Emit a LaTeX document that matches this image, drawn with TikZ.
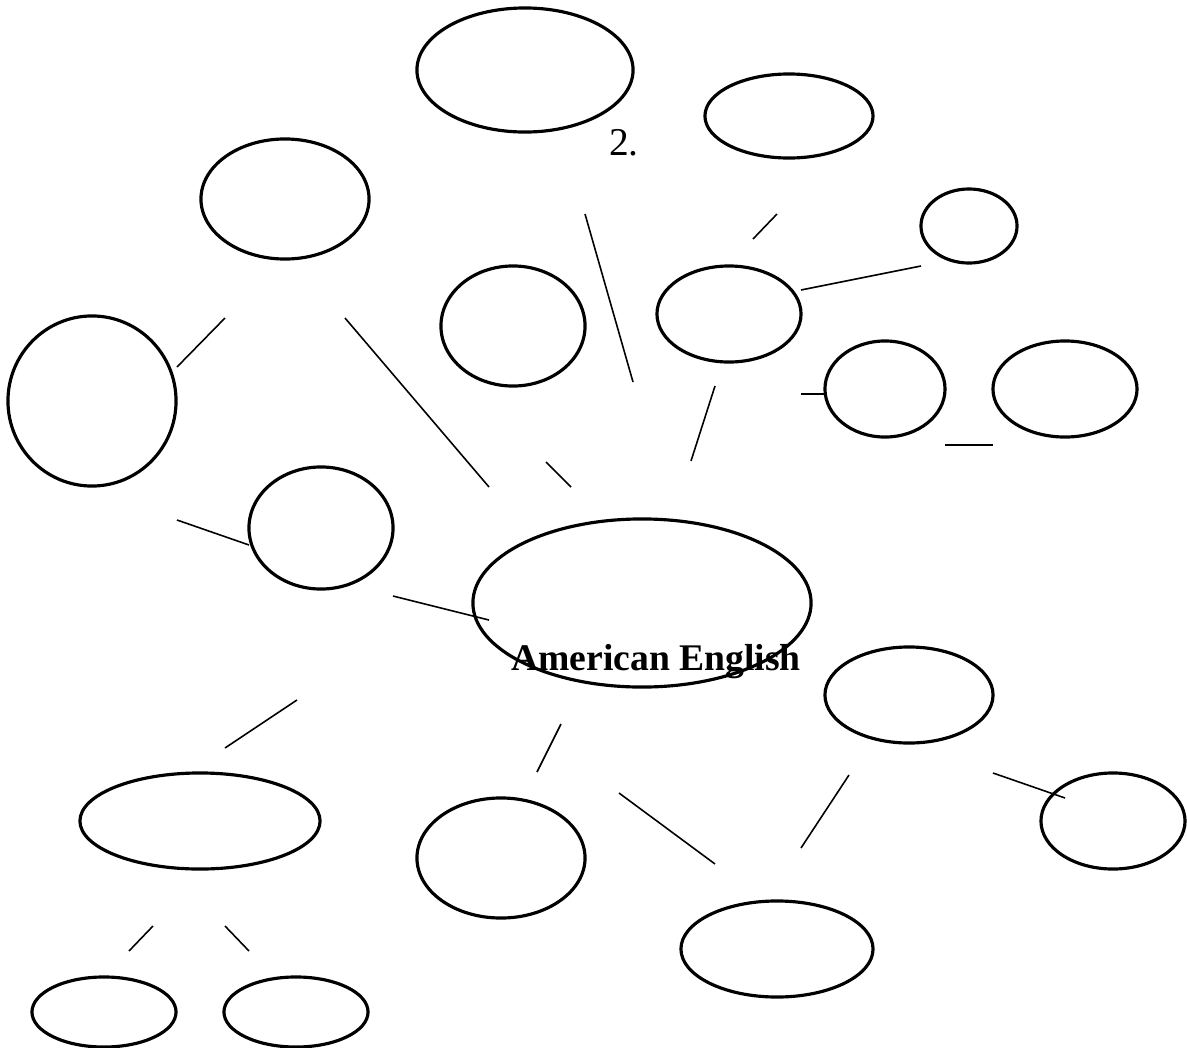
\documentclass[tikz,border=0pt]{standalone}
\usepackage{fontspec}
\setmainfont{Liberation Serif}
\usepackage{tikz}
\usetikzlibrary{shapes.geometric}

\begin{document}
\begin{tikzpicture}[
  x=0.01cm,y=-0.01cm,
  bubble/.style={ellipse,draw,line width=0.9pt,inner sep=0pt},
  link/.style={line width=0.45pt},
  label/.style={inner sep=0pt,anchor=base,font=\fontsize{11.2}{13}\selectfont}
]
  \useasboundingbox (0,0) rectangle (1187,1048);
  % bubbles
  \node[bubble,minimum width=2.16cm,minimum height=1.24cm] (top) at (525,70) {};
  \node[bubble,minimum width=1.68cm,minimum height=0.84cm] (topright) at (789,116) {};
  \node[bubble,minimum width=1.68cm,minimum height=1.20cm] (upperleft) at (285,199) {};
  \node[bubble,minimum width=0.96cm,minimum height=0.74cm] (smallright) at (969,226) {};
  \node[bubble,minimum width=1.44cm,minimum height=1.20cm] (middle) at (513,326) {};
  \node[bubble,minimum width=1.44cm,minimum height=0.96cm] (hub) at (729,314) {};
  \node[bubble,minimum width=1.68cm,minimum height=1.70cm] (bigleft) at (92,401) {};
  \node[bubble,minimum width=1.20cm,minimum height=0.96cm] (right) at (885,389) {};
  \node[bubble,minimum width=1.44cm,minimum height=0.96cm] (farright) at (1065,389) {};
  \node[bubble,minimum width=1.44cm,minimum height=1.22cm] (midleft) at (321,528) {};
  \node[bubble,minimum width=3.38cm,minimum height=1.68cm] (centre) at (642,603) {};
  \node[bubble,minimum width=1.68cm,minimum height=0.96cm] (lowright) at (909,695) {};
  \node[bubble,minimum width=1.44cm,minimum height=0.96cm] (corner) at (1113,821) {};
  \node[bubble,minimum width=2.40cm,minimum height=0.96cm] (wide) at (200,821) {};
  \node[bubble,minimum width=1.68cm,minimum height=1.20cm] (bottommid) at (501,858) {};
  \node[bubble,minimum width=1.92cm,minimum height=0.96cm] (bottomright) at (777,949) {};
  \node[bubble,minimum width=1.44cm,minimum height=0.70cm] (leafa) at (104,1012) {};
  \node[bubble,minimum width=1.44cm,minimum height=0.70cm] (leafb) at (296,1012) {};
  % texts
  \node[label] (num) at (624,155) {2.};
  \node[label,font=\fontsize{10.7}{13}\selectfont\bfseries] (title) at (656,670) {American English};
  % loose strokes
  \foreach \i/\a/\b/\c/\d in {
      1/177/367/225/318, 2/345/318/489/487, 3/585/214/633/382,
      4/753/239/777/214, 5/801/290/921/266, 6/715/386/691/461,
      7/801/394/825/394, 8/945/445/993/445, 9/546/462/571/487,
      10/177/520/249/545, 11/393/596/489/620, 12/297/700/225/748,
      13/561/724/537/772, 14/619/793/715/864, 15/849/775/801/848,
      16/993/773/1065/798, 17/153/926/129/951, 18/225/926/249/951}{
    \coordinate (s\i) at (\a,\b);
    \coordinate (t\i) at (\c,\d);
    \draw[link] (s\i) -- (t\i);
  }
\end{tikzpicture}
\end{document}
